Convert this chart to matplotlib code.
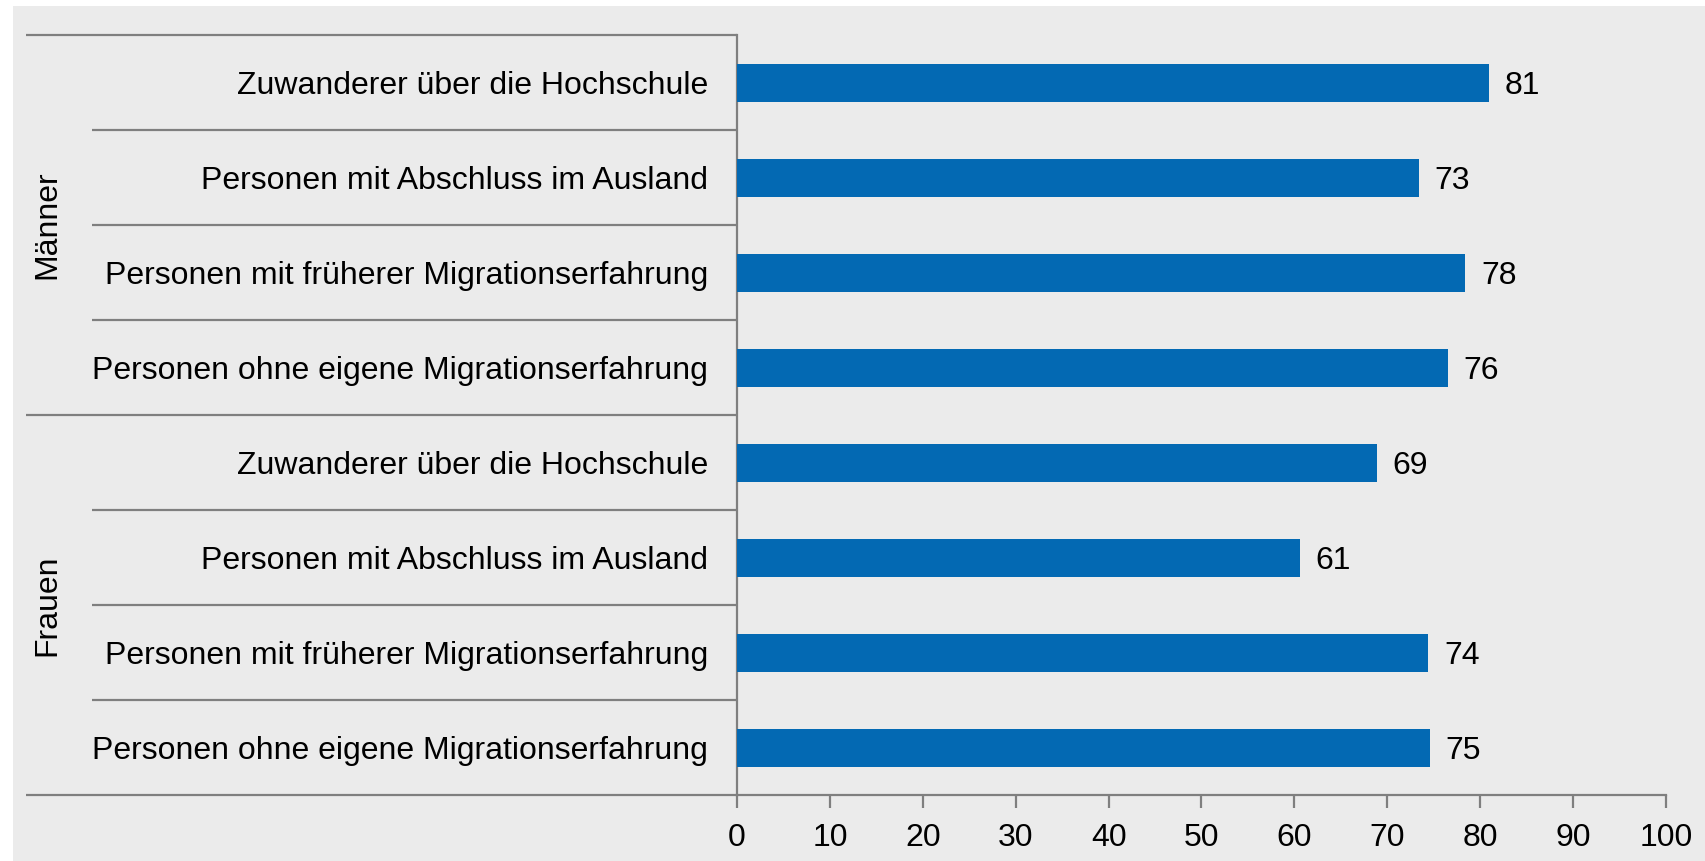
import matplotlib
matplotlib.use("Agg")
import matplotlib.pyplot as plt
from matplotlib.transforms import blended_transform_factory
from matplotlib.patches import Rectangle

plt.rcParams['font.family'] = ['Liberation Sans', 'DejaVu Sans']

groups = ["Männer", "Frauen"]
categories = [
    "Zuwanderer über die Hochschule",
    "Personen mit Abschluss im Ausland",
    "Personen mit früherer Migrationserfahrung",
    "Personen ohne eigene Migrationserfahrung",
]
men_values = [80.9, 73.4, 78.4, 76.5]
women_values = [68.9, 60.6, 74.4, 74.6]
men_labels = ["81", "73", "78", "76"]
women_labels = ["69", "61", "74", "75"]
x_ticks = [0, 10, 20, 30, 40, 50, 60, 70, 80, 90, 100]

FS = 23
W, H = 1706, 861
fig = plt.figure(figsize=(W / 100, H / 100), dpi=100)
fig.patch.set_facecolor("white")
bg = Rectangle((13 / W, 0), 1 - 13 / W, 1 - 6 / H, transform=fig.transFigure,
               facecolor="#EBEBEB", edgecolor="none", zorder=-10)
fig.add_artist(bg)

x0, x1 = 737, 1666
ytop, ybot = 35, 795
ax = fig.add_axes([x0 / W, 1 - ybot / H, (x1 - x0) / W, (ybot - ytop) / H])
ax.set_facecolor("none")
ax.set_zorder(1)

labels = categories + categories
values = men_values + women_values
vlabels = men_labels + women_labels
n = len(values)
ypos = [i + 0.5 for i in range(n)]

bar_color = "#0369B3"
ax.barh(ypos, values, height=0.4, color=bar_color, zorder=3)
ax.set_xlim(0, 100)
ax.set_ylim(n, 0)

line_col = "#7F7F7F"
for s in ["top", "right"]:
    ax.spines[s].set_visible(False)
for s in ["left", "bottom"]:
    ax.spines[s].set_color(line_col)
    ax.spines[s].set_linewidth(1.6)

ax.set_yticks([])
ax.set_xticks(x_ticks)
ax.set_xticklabels([str(t) for t in x_ticks], fontsize=FS)
ax.tick_params(axis="x", direction="out", length=9, width=1.6, color=line_col, pad=11)

# value labels
for y, v, lab in zip(ypos, values, vlabels):
    ax.text(v + 1.7, y, lab, va="center_baseline", ha="left", fontsize=FS, color="black")

tr = blended_transform_factory(fig.transFigure, ax.transData)
# category labels
for y, lab in zip(ypos, labels):
    ax.text(708 / W, y, lab, transform=tr, ha="right", va="center_baseline", fontsize=FS,
            color="black", clip_on=False)

# separator lines
for k in range(n + 1):
    xs = 26 / W if k % 4 == 0 else 92 / W
    ax.plot([xs, x0 / W], [k, k], transform=tr, color=line_col, lw=1.6,
            clip_on=False, solid_capstyle="butt")

# group labels
for gi, g in enumerate(groups):
    ax.text(47 / W, gi * 4 + 2, g, transform=tr, rotation=90, ha="center", va="center",
            fontsize=FS, color="black", clip_on=False)

fig.savefig("out.png", dpi=100)
